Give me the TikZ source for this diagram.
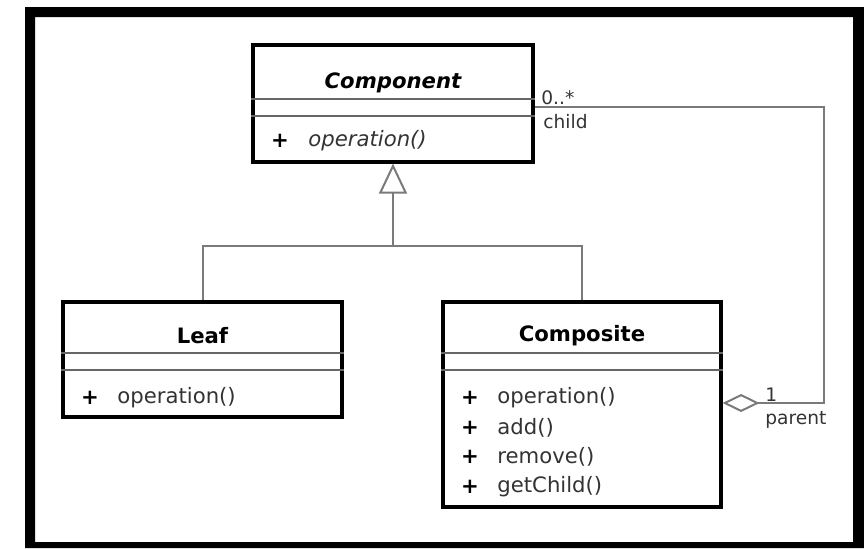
\documentclass[tikz,border=0pt]{standalone}
\usepackage{fontspec}
\setmainfont{DejaVu Sans}
\usetikzlibrary{arrows.meta}
\definecolor{conncol}{HTML}{7A7A7A}
\definecolor{sepcol}{HTML}{666666}
\definecolor{txtcol}{HTML}{333333}
\tikzset{
  classbox/.style={draw=black, line width=1.6pt, inner sep=0pt, fill=white},
  sepline/.style={draw=sepcol, line width=0.9pt},
  conn/.style={draw=conncol, line width=1pt},
  txt/.style={yshift=-1.25pt, inner sep=0pt},
  title/.style={txt, font=\fontsize{10.6pt}{12pt}\selectfont\bfseries, text=black},
  ititle/.style={txt, font=\fontsize{10.6pt}{12pt}\selectfont\bfseries\itshape, text=black},
  vis/.style={txt, font=\fontsize{10.6pt}{12pt}\selectfont\bfseries, text=black},
  meth/.style={txt, font=\fontsize{10.6pt}{12pt}\selectfont, text=txtcol, anchor=west},
  imeth/.style={meth, font=\fontsize{10.6pt}{12pt}\selectfont\itshape},
  role/.style={txt, font=\fontsize{9.3pt}{11pt}\selectfont, text=txtcol, anchor=west},
}
\begin{document}
\begin{tikzpicture}[x=0.5pt, y=-0.5pt]
\useasboundingbox (0,0) rectangle (864,548);
% outer frame
\fill[black, even odd rule] (25,7) rectangle (864,548) (35,17) rectangle (853,542);

% class boxes
\node[classbox, minimum width=140pt, minimum height=58.5pt] (comp) at (393,103.5) {};
\node[classbox, minimum width=139.5pt, minimum height=57.5pt] (leaf) at (202.5,359.5) {};
\node[classbox, minimum width=139pt, minimum height=102.5pt] (composite) at (582,404.5) {};

% compartments
\draw[sepline] (comp.west |- 0,99) -- (comp.east |- 0,99);
\draw[sepline] (comp.west |- 0,116) -- (comp.east |- 0,116);
\draw[sepline] (leaf.west |- 0,353) -- (leaf.east |- 0,353);
\draw[sepline] (leaf.west |- 0,370) -- (leaf.east |- 0,370);
\draw[sepline] (composite.west |- 0,353) -- (composite.east |- 0,353);
\draw[sepline] (composite.west |- 0,370) -- (composite.east |- 0,370);

% Component
\node[ititle] (compname) at (393,80) {Component};
\node[vis] (compv1) at (280,138) {+};
\node[imeth] (compm1) at (308,138) {operation()};

% Leaf
\node[title] (leafname) at (202.5,333) {Leaf};
\node[vis] (leafv1) at (90,395) {+};
\node[meth] (leafm1) at (117,395) {operation()};

% Composite
\node[title] (compositename) at (582,333) {Composite};
\node[vis] (cv1) at (470,395) {+};
\node[meth] (cm1) at (497,395) {operation()};
\node[vis] (cv2) at (470,425) {+};
\node[meth] (cm2) at (497,425) {add()};
\node[vis] (cv3) at (470,454) {+};
\node[meth] (cm3) at (497,454) {remove()};
\node[vis] (cv4) at (470,484) {+};
\node[meth] (cm4) at (497,484) {getChild()};

% generalization
\coordinate (junction) at (393,246);
\draw[conn] (leaf.north) |- (junction) -| (composite.north);
\draw[conn, -{Triangle[open, length=15pt, width=14pt, line width=1pt]}] (junction) -- (comp.south);

% aggregation (parent / child)
\coordinate (aggend) at ([yshift=0.75pt]composite.east);
\coordinate (childend) at ([yshift=-1.75pt]comp.east);
\coordinate (corner) at (824,403);
\draw[conn, {Diamond[open, length=18.5pt, width=9pt, line width=1pt]}-] (aggend) -- (corner) |- (childend);

% multiplicities and roles
\node[role] (mchild) at (541,95) {0..*};
\node[role] (rchild) at (543,119) {child};
\node[role] (mparent) at (765,392) {1};
\node[role] (rparent) at (765,417) {parent};
\end{tikzpicture}
\end{document}
